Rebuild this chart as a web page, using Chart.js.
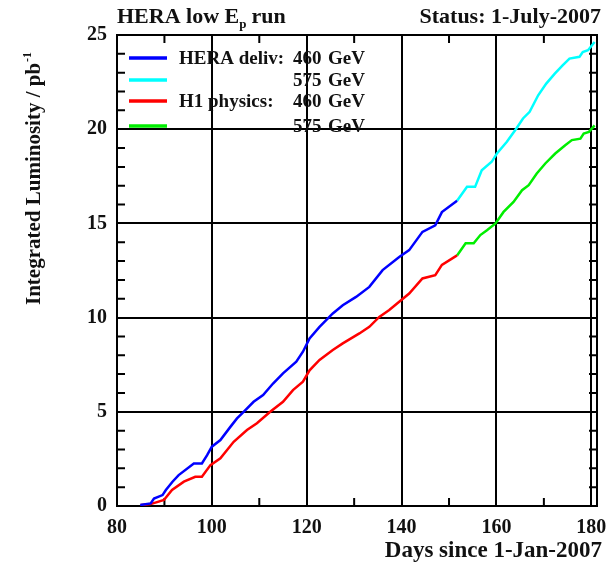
<!DOCTYPE html>
<html>
<head>
<meta charset="utf-8">
<script src="https://cdn.jsdelivr.net/npm/chart.js@4"></script>
<style>
  body { margin: 0; background: #fff; }
  #lumiChart { display: block; }
</style>
</head>
<body>
<canvas id="lumiChart" width="606" height="566"></canvas>
<script>
// HERA delivered, 460 GeV (blue)
const heraDays460 = [84.9, 87.1, 87.8, 89.6, 90.3, 91.7, 93.0, 96.2, 97.9, 99.0, 100.0, 101.8, 103.9, 105.3, 106.7, 108.8, 110.8, 112.9, 115.0, 117.8, 119.2, 120.6, 122.7, 125.5, 127.6, 130.4, 133.2, 136.0, 139.5, 141.6, 144.4, 147.1, 148.5, 151.7];
const heraLumi460 = [0.05, 0.14, 0.4, 0.58, 0.85, 1.29, 1.64, 2.26, 2.26, 2.7, 3.15, 3.5, 4.2, 4.65, 5.0, 5.53, 5.89, 6.5, 7.04, 7.66, 8.19, 8.9, 9.51, 10.22, 10.66, 11.1, 11.63, 12.52, 13.22, 13.58, 14.55, 14.9, 15.6, 16.2];

// HERA delivered, 575 GeV (cyan)
const heraDays575 = [151.7, 153.8, 155.5, 156.9, 159.0, 160.1, 162.2, 164.2, 165.6, 167.0, 168.8, 170.5, 172.3, 174.0, 175.4, 177.5, 178.2, 179.3, 180.7];
const heraLumi575 = [16.2, 16.94, 16.94, 17.82, 18.27, 18.71, 19.33, 20.04, 20.57, 20.92, 21.8, 22.42, 22.95, 23.4, 23.75, 23.84, 24.1, 24.19, 24.63];

// H1 physics, 460 GeV (red)
const h1Days460 = [85.0, 87.1, 89.9, 91.6, 94.1, 96.5, 97.9, 99.7, 101.8, 104.6, 107.4, 109.5, 112.3, 115.0, 117.1, 119.2, 120.6, 122.7, 125.5, 127.6, 131.1, 133.2, 135.3, 137.4, 139.5, 141.6, 144.4, 147.1, 148.5, 151.7];
const h1Lumi460 = [0.05, 0.1, 0.32, 0.85, 1.29, 1.55, 1.55, 2.17, 2.53, 3.41, 4.03, 4.39, 5.0, 5.53, 6.15, 6.6, 7.2, 7.75, 8.28, 8.63, 9.16, 9.51, 10.04, 10.4, 10.84, 11.28, 12.08, 12.25, 12.8, 13.3];

// H1 physics, 575 GeV (green)
const h1Days575 = [151.7, 153.5, 155.2, 156.6, 158.0, 159.8, 161.5, 163.6, 165.4, 166.8, 168.5, 170.3, 172.4, 174.5, 175.9, 177.7, 178.4, 179.5, 180.7];
const h1Lumi575 = [13.3, 13.94, 13.94, 14.38, 14.64, 15.0, 15.61, 16.14, 16.76, 17.03, 17.65, 18.18, 18.71, 19.15, 19.42, 19.5, 19.77, 19.86, 20.2];

const xTicks = [80, 100, 120, 140, 160, 180];
const yTicks = [0, 5, 10, 15, 20, 25];

const serif = '"Liberation Serif", "DejaVu Serif", serif';
const ink = '#111';

function pts(days, lumi) {
    return days.map((d, i) => ({ x: d, y: lumi[i] }));
}

function series(days, lumi, color) {
    return {
        data: pts(days, lumi),
        borderColor: color,
        borderWidth: 2.5,
        pointRadius: 0,
        tension: 0,
        fill: false
    };
}

// frame, minor ticks, legend and titles
const decor = {
    id: 'decor',
    beforeDatasetsDraw(chart) {
        const { ctx, chartArea: a, scales: { x, y } } = chart;
        ctx.save();
        ctx.strokeStyle = '#000';
        ctx.lineWidth = 2;
        // minor ticks x (every 10 days) top and bottom
        for (let d = 90; d < 181; d += 20) {
            const px = x.getPixelForValue(d);
            ctx.beginPath();
            ctx.moveTo(px, a.bottom); ctx.lineTo(px, a.bottom - 8);
            ctx.moveTo(px, a.top); ctx.lineTo(px, a.top + 8);
            ctx.stroke();
        }
        // minor ticks y (every 1) left and right
        for (let v = 1; v < 25; v++) {
            if (v % 5 === 0) continue;
            const py = y.getPixelForValue(v);
            ctx.beginPath();
            ctx.moveTo(a.left, py); ctx.lineTo(a.left + 8, py);
            ctx.moveTo(a.right, py); ctx.lineTo(a.right - 8, py);
            ctx.stroke();
        }
        ctx.strokeRect(a.left, a.top, a.right - a.left, a.bottom - a.top);
        ctx.restore();
    },
    afterDraw(chart) {
        const { ctx } = chart;
        const ds = chart.data.datasets;
        ctx.save();
        ctx.fillStyle = ink;

        // legend
        const rows = [58, 80, 101, 126];
        rows.forEach((ry, i) => {
            ctx.strokeStyle = ds[i].borderColor;
            ctx.lineWidth = 3.5;
            ctx.beginPath();
            ctx.moveTo(129, ry); ctx.lineTo(167, ry);
            ctx.stroke();
        });
        ctx.font = 'bold 19px ' + serif;
        ctx.textBaseline = 'middle';
        ctx.textAlign = 'left';
        ctx.fillText('HERA deliv:', 179, rows[0] + 1);
        ctx.fillText('H1 physics:', 179, rows[2] + 1);
        const gev = ['460', '575', '460', '575'];
        rows.forEach((ry, i) => {
            ctx.fillText(gev[i], 293, ry + 1);
            ctx.fillText('GeV', 328, ry + 1);
        });

        // top titles
        ctx.textBaseline = 'alphabetic';
        ctx.font = 'bold 22px ' + serif;
        let tx = 117;
        ctx.fillText('HERA low E', tx, 23);
        tx += ctx.measureText('HERA low E').width;
        ctx.font = 'bold 13px ' + serif;
        ctx.fillText('p', tx, 28);
        tx += ctx.measureText('p').width + 5;
        ctx.font = 'bold 22px ' + serif;
        ctx.fillText('run', tx, 23);
        ctx.textAlign = 'right';
        ctx.fillText('Status: 1-July-2007', 601, 23);

        // x axis title
        ctx.font = 'bold 23px ' + serif;
        ctx.fillText('Days since 1-Jan-2007', 602, 557);

        // y axis title
        ctx.translate(35, 305);
        ctx.rotate(-Math.PI / 2);
        ctx.textAlign = 'left';
        ctx.textBaseline = 'middle';
        ctx.font = 'bold 21px ' + serif;
        const yt = 'Integrated Luminosity / pb';
        ctx.fillText(yt, 0, 0);
        const w = ctx.measureText(yt).width;
        ctx.font = 'bold 12px ' + serif;
        ctx.fillText('-1', w + 1, -7);
        ctx.restore();
    }
};

new Chart(document.getElementById('lumiChart').getContext('2d'), {
    type: 'line',
    data: {
        datasets: [
            series(heraDays460, heraLumi460, '#0000ff'),
            series(heraDays575, heraLumi575, '#00ffff'),
            series(h1Days460, h1Lumi460, '#ff0000'),
            series(h1Days575, h1Lumi575, '#00ee00')
        ]
    },
    options: {
        responsive: false,
        animation: false,
        devicePixelRatio: 1,
        layout: { padding: { top: 35, right: 9, bottom: 0, left: 0 } },
        plugins: { legend: { display: false }, tooltip: { enabled: false } },
        scales: {
            x: {
                type: 'linear',
                min: 80,
                max: 181.2,
                afterBuildTicks: s => { s.ticks = xTicks.map(v => ({ value: v })); },
                afterFit: s => { s.height = 60; s.paddingLeft = 0; s.paddingRight = 0; },
                ticks: {
                    color: ink,
                    padding: 10,
                    font: { family: serif, size: 20, weight: 'bold' }
                },
                grid: { color: '#000', lineWidth: 2, drawTicks: false },
                border: { color: '#000', width: 2 }
            },
            y: {
                type: 'linear',
                min: 0,
                max: 25,
                afterBuildTicks: s => { s.ticks = yTicks.map(v => ({ value: v })); },
                afterFit: s => { s.width = 117; s.paddingTop = 0; s.paddingBottom = 0; },
                ticks: {
                    color: ink,
                    padding: 10,
                    font: { family: serif, size: 20, weight: 'bold' }
                },
                grid: { color: '#000', lineWidth: 2, drawTicks: false },
                border: { color: '#000', width: 2 }
            }
        }
    },
    plugins: [decor]
});
</script>
</body>
</html>
